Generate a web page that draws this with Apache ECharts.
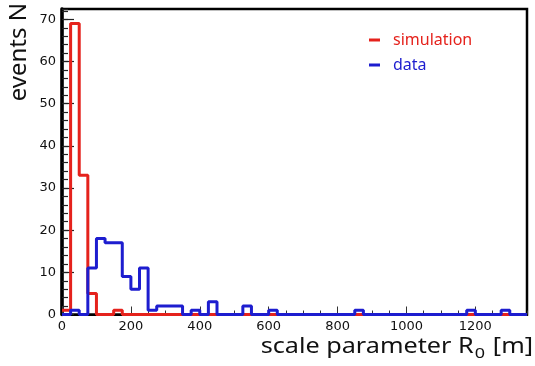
<!DOCTYPE html>
<html>
<head>
<meta charset="utf-8">
<script src="https://cdn.jsdelivr.net/npm/echarts@6/dist/echarts.min.js"></script>
<style>
  html, body { margin: 0; padding: 0; background: #fff; }
  #chart { width: 535px; height: 366px; }
</style>
</head>
<body>
<div id="chart"></div>
<script>
// histogram: 54 bins of 25 m, from 0 to 1350
const binWidth = 25
const xMax = 1350
const yMax = 72.45

// events per bin (simulation)
const simulation = [
  1, 69, 33, 5, 0, 0, 1, 0, 0, 0,
  0, 0, 0, 0, 0, 0, 0, 0, 0, 0,
  0, 0, 0, 0, 0, 0, 0, 0, 0, 0,
  0, 0, 0, 0, 0, 0, 0, 0, 0, 0,
  0, 0, 0, 0, 0, 0, 0, 0, 0, 0,
  0, 0, 0, 0
]

// events per bin (data)
const data = [
  0, 1, 0, 11, 18, 17, 17, 9, 6, 11,
  1, 2, 2, 2, 0, 1, 0, 3, 0, 0,
  0, 2, 0, 0, 1, 0, 0, 0, 0, 0,
  0, 0, 0, 0, 1, 0, 0, 0, 0, 0,
  0, 0, 0, 0, 0, 0, 0, 1, 0, 0,
  0, 1, 0, 0
]

const xTicks = [0, 200, 400, 600, 800, 1000, 1200]
const yTicks = [0, 10, 20, 30, 40, 50, 60, 70]

const RED = '#e5221c'
const BLUE = '#1d1dcf'

// bin contents -> step points [left edge, value] (+ closing right edge)
function toSteps(values) {
  let pts = values.map((v, i) => [i * binWidth, v])
  pts.push([values.length * binWidth, values[values.length - 1]])
  return pts
}

const chart = echarts.init(document.getElementById('chart'), null, { renderer: 'canvas' })

const labelStyle = { color: '#111', fontFamily: 'DejaVu Sans', fontSize: 13 }

const option = {
  animation: false,
  grid: {
    left: 62, top: 9, right: 8, bottom: 51.5,
    show: true, borderColor: '#000', borderWidth: 2.5
  },
  legend: {
    orient: 'vertical',
    left: 364, top: 27,
    itemWidth: 11, itemHeight: 3,
    itemGap: 9,
    icon: 'rect',
    textStyle: { fontFamily: 'Noto Sans', fontSize: 16, padding: [0, 0, 0, 8] },
    data: [
      { name: 'simulation', textStyle: { color: RED } },
      { name: 'data', textStyle: { color: BLUE } }
    ]
  },
  xAxis: [
    {
      // major ticks + labels
      type: 'value', min: 0, max: xMax, interval: 200,
      axisLine: { show: true, lineStyle: { color: '#000', width: 2 } },
      axisTick: { show: true, inside: true, length: 8, lineStyle: { color: '#333', width: 1 } },
      axisLabel: {
        ...labelStyle, margin: 6, showMaxLabel: false,
        formatter: v => (xTicks.includes(v) ? String(v) : '')
      },
      splitLine: { show: false }
    },
    {
      // minor ticks every 50
      type: 'value', min: 0, max: xMax, interval: 50, position: 'bottom',
      axisLine: { show: false },
      axisTick: { show: true, inside: true, length: 4, lineStyle: { color: '#333', width: 1 } },
      axisLabel: { show: false },
      splitLine: { show: false }
    }
  ],
  yAxis: [
    {
      type: 'value', min: 0, max: yMax, interval: 10,
      axisLine: { show: true, lineStyle: { color: '#000', width: 3.5 } },
      axisTick: { show: true, inside: true, length: 12, lineStyle: { color: '#222', width: 1.2 } },
      axisLabel: {
        ...labelStyle, margin: 6, showMaxLabel: false,
        formatter: v => (yTicks.includes(v) ? String(v) : '')
      },
      splitLine: { show: false }
    },
    {
      // minor ticks every 2
      type: 'value', min: 0, max: yMax, interval: 2, position: 'left',
      axisLine: { show: false },
      axisTick: { show: true, inside: true, length: 6, lineStyle: { color: '#222', width: 1.2 } },
      axisLabel: { show: false },
      splitLine: { show: false }
    }
  ],
  series: [
    {
      name: 'simulation', type: 'line', step: 'end',
      xAxisIndex: 0, yAxisIndex: 0,
      showSymbol: false, clip: false,
      itemStyle: { color: RED },
      lineStyle: { color: RED, width: 3 },
      data: toSteps(simulation),
      z: 3
    },
    {
      name: 'data', type: 'line', step: 'end',
      xAxisIndex: 0, yAxisIndex: 0,
      showSymbol: false, clip: false,
      itemStyle: { color: BLUE },
      lineStyle: { color: BLUE, width: 3 },
      data: toSteps(data),
      z: 4
    }
  ],
  graphic: [
    {
      // y title, reads bottom to top, pinned to top of axis
      type: 'text', x: 19, y: 3, rotation: Math.PI / 2,
      style: {
        text: 'events N', fill: '#111',
        font: '24px "Noto Sans"', align: 'right', verticalAlign: 'middle'
      }
    },
    {
      // x title with subscript, pinned to right end
      type: 'text', x: 533, y: 347, scaleX: 1.2,
      style: {
        text: '{n|scale parameter R}{s|0}{n| [m]}',
        fill: '#111', align: 'right', verticalAlign: 'middle',
        rich: {
          n: { fontFamily: 'Noto Sans', fontSize: 21, fill: '#111', lineHeight: 26 },
          s: { fontFamily: 'Noto Sans', fontSize: 15, fill: '#111', padding: [14, 1, 0, 1], lineHeight: 26 }
        }
      }
    }
  ]
}

chart.setOption(option)
</script>
</body>
</html>
